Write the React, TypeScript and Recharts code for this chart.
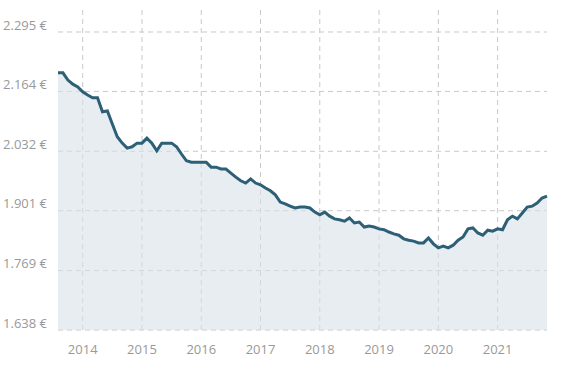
import { AreaChart, Area, XAxis, YAxis, CartesianGrid } from 'recharts';

// monthly, Aug 2013 .. Nov 2021
const startYear = 2013;
const startMonth = 8;

const prices = [
  2.205, 2.205, 2.189, 2.18, 2.174,
  2.163, 2.156, 2.15, 2.15, 2.119, 2.121, 2.092, 2.064, 2.05, 2.039, 2.042, 2.05,
  2.05, 2.061, 2.05, 2.033, 2.05, 2.05, 2.05, 2.042, 2.026, 2.011, 2.008, 2.008,
  2.008, 2.008, 1.997, 1.997, 1.993, 1.993, 1.984, 1.975, 1.967, 1.962, 1.971, 1.962,
  1.958, 1.951, 1.945, 1.936, 1.92, 1.916, 1.911, 1.907, 1.909, 1.909, 1.907, 1.898,
  1.892, 1.898, 1.889, 1.883, 1.881, 1.878, 1.885, 1.874, 1.876, 1.865, 1.867, 1.865,
  1.861, 1.859, 1.854, 1.85, 1.847, 1.839, 1.836, 1.834, 1.83, 1.83, 1.841, 1.828,
  1.819, 1.823, 1.819, 1.825, 1.836, 1.843, 1.861, 1.863, 1.852, 1.847, 1.858, 1.856,
  1.861, 1.859, 1.881, 1.889, 1.883, 1.896, 1.909, 1.911, 1.918, 1.929, 1.933,
];

const yearTicks = [2014, 2015, 2016, 2017, 2018, 2019, 2020, 2021];
const priceTicks = [1.638, 1.769, 1.901, 2.032, 2.164, 2.295];

const data = prices.map((price, i) => ({
  t: startYear + (startMonth - 1 + i) / 12,
  price,
}));

const font = '"Open Sans", sans-serif';

// price labels sit a little above their grid line
function PriceTick({ x, y, payload }: any) {
  return (
    <text x={x} y={y - 7} dy="0.355em" textAnchor="end" fill="#999" fontSize={13} fontFamily={font}>
      {payload.value.toFixed(3) + ' €'}
    </text>
  );
}

export default function App() {
  return (
    <div style={{ position: 'absolute', left: 0, top: 0 }}>
      <AreaChart width={579} height={381} data={data} margin={{ top: 10, right: 32, left: 0, bottom: 21 }}>
        <CartesianGrid stroke="#c8c8c8" strokeDasharray="5 4" syncWithTicks />
        <XAxis
          dataKey="t"
          type="number"
          domain={[data[0].t, data[data.length - 1].t]}
          ticks={yearTicks}
          tickFormatter={(v: number) => String(Math.round(v))}
          axisLine={false}
          tickLine={false}
          tickMargin={9}
          height={30}
          tick={{ fill: '#999', fontSize: 13, fontFamily: font }}
        />
        <YAxis
          type="number"
          domain={[1.638, 2.3435]}
          ticks={priceTicks}
          axisLine={false}
          tickLine={false}
          tickMargin={5}
          width={58}
          tick={<PriceTick />}
        />
        <Area
          type="linear"
          dataKey="price"
          stroke="#2d5f76"
          strokeWidth={3}
          fill="#d9e1e8"
          fillOpacity={0.6}
          isAnimationActive={false}
        />
      </AreaChart>
    </div>
  );
}
